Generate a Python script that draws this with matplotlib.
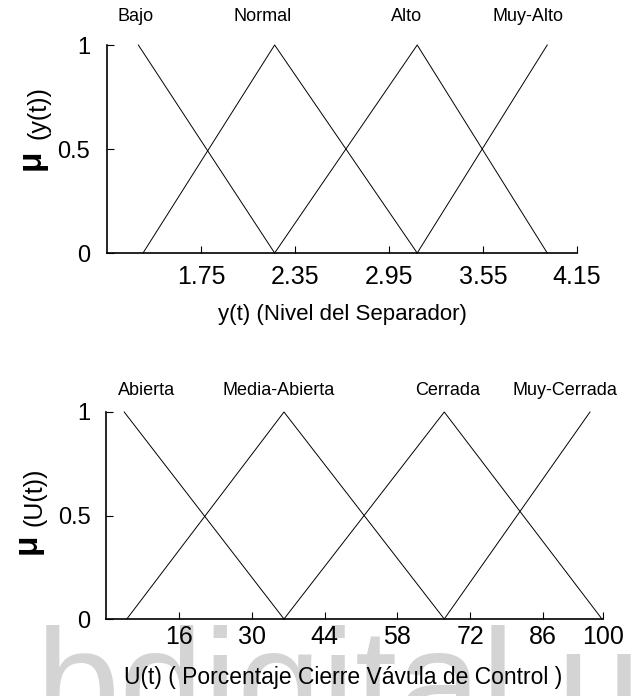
import matplotlib
matplotlib.use("Agg")
import matplotlib.pyplot as plt

plt.rcParams['font.family'] = ['Liberation Sans', 'DejaVu Sans']

# Nivel del separador y(t)
nivel_ticks = [1.75, 2.35, 2.95, 3.55, 4.15]
nivel_names = ['Bajo', 'Normal', 'Alto', 'Muy-Alto']
nivel_name_x = [1.33, 2.145, 3.064, 3.837]
bajo_x, bajo_mu = [1.35, 2.22], [1, 0]
normal_x, normal_mu = [1.38, 2.22, 3.13], [0, 1, 0]
alto_x, alto_mu = [2.22, 3.13, 3.96], [0, 1, 0]
muyalto_x, muyalto_mu = [3.13, 3.96], [0, 1]

# Porcentaje de cierre de la valvula U(t)
valv_ticks = [16, 30, 44, 58, 72, 86, 97.5]
valv_tick_labels = ['16', '30', '44', '58', '72', '86', '100']
valv_names = ['Abierta', 'Media-Abierta', 'Cerrada', 'Muy-Cerrada']
valv_name_x = [9.7, 35.1, 67.7, 90.2]
abierta_x, abierta_mu = [5.5, 36.2], [1, 0]
media_x, media_mu = [6.0, 36.2, 67.0], [0, 1, 0]
cerrada_x, cerrada_mu = [36.2, 67.0, 97.3], [0, 1, 0]
muycerrada_x, muycerrada_mu = [67.0, 95.0], [0, 1]

W, H = 631, 696
fig = plt.figure(figsize=(W / 100, H / 100), dpi=100)


def px_axes(left, top, right, bottom):
    return fig.add_axes([left / W, 1 - bottom / H, (right - left) / W, (bottom - top) / H])


def setup(ax, xlim, ticks, labels, xpad, ypad):
    ax.set_xlim(*xlim)
    ax.set_ylim(0, 1)
    ax.spines['top'].set_visible(False)
    ax.spines['right'].set_visible(False)
    for s in ('left', 'bottom'):
        ax.spines[s].set_linewidth(1.2)
    ax.set_xticks(ticks)
    ax.set_xticklabels(labels)
    ax.set_yticks([0, 0.5, 1])
    ax.set_yticklabels(['0', '0.5', '1'])
    ax.tick_params(axis='x', direction='in', length=5, width=0.8, labelsize=18, pad=xpad)
    ax.tick_params(axis='y', direction='in', length=5, width=0.8, labelsize=17, pad=ypad)


# panel 1
ax1 = px_axes(107, 45, 577, 253)
for xs, ms in [(bajo_x, bajo_mu), (normal_x, normal_mu), (alto_x, alto_mu), (muyalto_x, muyalto_mu)]:
    ax1.plot(xs, ms, color='black', lw=0.7, clip_on=False)
setup(ax1, (1.15, 4.15), nivel_ticks, [f"{t:.2f}" for t in nivel_ticks], 8.5, 12)
for name, x in zip(nivel_names, nivel_name_x):
    ax1.text(x, 1.135, name, transform=ax1.get_xaxis_transform(), ha='center', va='center', fontsize=13)
ax1.set_xlabel('y(t) (Nivel del Separador)', fontsize=16)
ax1.xaxis.set_label_coords(0.5, -0.245)
fig.text(31 / W, 1 - 160 / H, 'μ', rotation=90, fontsize=24, fontweight='bold', ha='center', va='center')
fig.text(38 / W, 1 - 113 / H, '(y(t))', rotation=90, fontsize=18, ha='center', va='center')

# panel 2
ax2 = px_axes(106, 412, 603, 619)
for xs, ms in [(abierta_x, abierta_mu), (media_x, media_mu), (cerrada_x, cerrada_mu), (muycerrada_x, muycerrada_mu)]:
    ax2.plot(xs, ms, color='black', lw=0.7, clip_on=False)
setup(ax2, (2, 97.5), valv_ticks, valv_tick_labels, 4.5, 11)
for name, x in zip(valv_names, valv_name_x):
    ax2.text(x, 1.106, name, transform=ax2.get_xaxis_transform(), ha='center', va='center', fontsize=13)
ax2.set_xlabel('U(t) ( Porcentaje Cierre Vávula de Control )', fontsize=16.5)
ax2.xaxis.set_label_coords(0.477, -0.227)
fig.text(27 / W, 1 - 544 / H, 'μ', rotation=90, fontsize=24, fontweight='bold', ha='center', va='center')
fig.text(35 / W, 1 - 497 / H, '(U(t))', rotation=90, fontsize=18, ha='center', va='center')

# marca de agua
fig.text(35 / W, 1 - 734 / H, 'bdigital.u', fontsize=109, color='#d4d4d4',
         ha='left', va='baseline', zorder=-1)

fig.savefig('out.png', dpi=100)
